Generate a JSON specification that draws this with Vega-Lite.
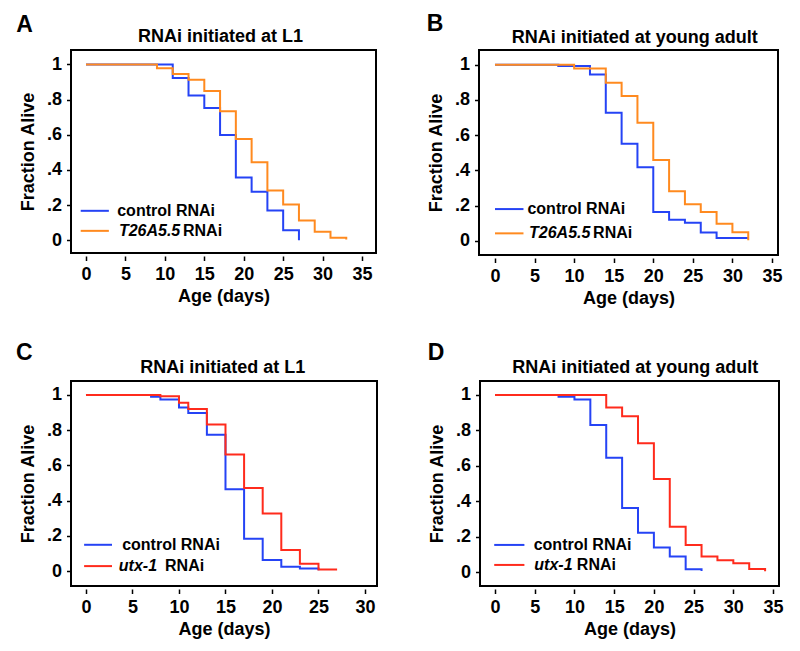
{
  "$schema": "https://vega.github.io/schema/vega-lite/v6.json",
  "background": "white",
  "padding": {"left": 14, "top": 12, "right": 5, "bottom": 5},
  "config": {
    "font": "Liberation Sans",
    "view": {"stroke": "black", "strokeWidth": 2},
    "axis": {
      "domain": false, "grid": false, "tickColor": "black", "tickWidth": 1.5,
      "labelFont": "Liberation Sans", "labelFontSize": 18, "labelFontWeight": "bold", "labelColor": "black",
      "titleFont": "Liberation Sans", "titleFontSize": 18, "titleFontWeight": "bold", "titleColor": "black",
      "labelOverlap": false, "labelFlush": false, "labelPadding": 5
    },
    "axisX": {"offset": 3, "titlePadding": 4,
      "labelExpr": "datum.value % 5 == 0 ? datum.label : ''",
      "tickSize": {"condition": {"test": "datum.value % 5 != 0", "value": 3}, "value": 4.5}},
    "axisY": {"offset": 0, "titlePadding": 9,
      "labelExpr": "round(datum.value*10) % 2 == 1 ? '' : datum.value == 0 ? '0' : datum.value == 1 ? '1' : replace(format(datum.value, '.1f'), '0.', '.')",
      "tickSize": {"condition": {"test": "round(datum.value*10) % 2 == 1", "value": 3}, "value": 4.5}},
    "text": {"font": "Liberation Sans", "fontWeight": "bold", "color": "black"},
    "line": {"interpolate": "step-after", "strokeWidth": 2}
  },
  "data": {"values": [
    {"panel": "A", "series": "control RNAi", "day": 0, "frac": 1},
    {"panel": "A", "series": "control RNAi", "day": 11, "frac": 0.923},
    {"panel": "A", "series": "control RNAi", "day": 13, "frac": 0.823},
    {"panel": "A", "series": "control RNAi", "day": 15, "frac": 0.752},
    {"panel": "A", "series": "control RNAi", "day": 17, "frac": 0.598},
    {"panel": "A", "series": "control RNAi", "day": 19, "frac": 0.356},
    {"panel": "A", "series": "control RNAi", "day": 21, "frac": 0.276},
    {"panel": "A", "series": "control RNAi", "day": 23, "frac": 0.169},
    {"panel": "A", "series": "control RNAi", "day": 25, "frac": 0.057},
    {"panel": "A", "series": "control RNAi", "day": 27, "frac": 0},
    {"panel": "A", "series": "T26A5.5 RNAi", "day": 0, "frac": 1},
    {"panel": "A", "series": "T26A5.5 RNAi", "day": 9, "frac": 0.978},
    {"panel": "A", "series": "T26A5.5 RNAi", "day": 11, "frac": 0.945},
    {"panel": "A", "series": "T26A5.5 RNAi", "day": 13, "frac": 0.913},
    {"panel": "A", "series": "T26A5.5 RNAi", "day": 15, "frac": 0.849},
    {"panel": "A", "series": "T26A5.5 RNAi", "day": 17, "frac": 0.733},
    {"panel": "A", "series": "T26A5.5 RNAi", "day": 19, "frac": 0.575},
    {"panel": "A", "series": "T26A5.5 RNAi", "day": 21, "frac": 0.443},
    {"panel": "A", "series": "T26A5.5 RNAi", "day": 23, "frac": 0.282},
    {"panel": "A", "series": "T26A5.5 RNAi", "day": 25, "frac": 0.203},
    {"panel": "A", "series": "T26A5.5 RNAi", "day": 27, "frac": 0.112},
    {"panel": "A", "series": "T26A5.5 RNAi", "day": 29, "frac": 0.048},
    {"panel": "A", "series": "T26A5.5 RNAi", "day": 31, "frac": 0.014},
    {"panel": "A", "series": "T26A5.5 RNAi", "day": 33, "frac": 0.004},
    {"panel": "B", "series": "control RNAi", "day": 0, "frac": 1},
    {"panel": "B", "series": "control RNAi", "day": 8, "frac": 0.993},
    {"panel": "B", "series": "control RNAi", "day": 12, "frac": 0.945},
    {"panel": "B", "series": "control RNAi", "day": 14, "frac": 0.728},
    {"panel": "B", "series": "control RNAi", "day": 16, "frac": 0.551},
    {"panel": "B", "series": "control RNAi", "day": 18, "frac": 0.417},
    {"panel": "B", "series": "control RNAi", "day": 20, "frac": 0.163},
    {"panel": "B", "series": "control RNAi", "day": 22, "frac": 0.12},
    {"panel": "B", "series": "control RNAi", "day": 24, "frac": 0.102},
    {"panel": "B", "series": "control RNAi", "day": 26, "frac": 0.047},
    {"panel": "B", "series": "control RNAi", "day": 28, "frac": 0.016},
    {"panel": "B", "series": "control RNAi", "day": 32, "frac": 0.016},
    {"panel": "B", "series": "T26A5.5 RNAi", "day": 0, "frac": 1},
    {"panel": "B", "series": "T26A5.5 RNAi", "day": 10, "frac": 0.979},
    {"panel": "B", "series": "T26A5.5 RNAi", "day": 14, "frac": 0.898},
    {"panel": "B", "series": "T26A5.5 RNAi", "day": 16, "frac": 0.823},
    {"panel": "B", "series": "T26A5.5 RNAi", "day": 18, "frac": 0.67},
    {"panel": "B", "series": "T26A5.5 RNAi", "day": 20, "frac": 0.459},
    {"panel": "B", "series": "T26A5.5 RNAi", "day": 22, "frac": 0.281},
    {"panel": "B", "series": "T26A5.5 RNAi", "day": 24, "frac": 0.208},
    {"panel": "B", "series": "T26A5.5 RNAi", "day": 26, "frac": 0.163},
    {"panel": "B", "series": "T26A5.5 RNAi", "day": 28, "frac": 0.097},
    {"panel": "B", "series": "T26A5.5 RNAi", "day": 30, "frac": 0.048},
    {"panel": "B", "series": "T26A5.5 RNAi", "day": 32, "frac": 0.003},
    {"panel": "C", "series": "control RNAi", "day": 0, "frac": 1},
    {"panel": "C", "series": "control RNAi", "day": 7, "frac": 0.99},
    {"panel": "C", "series": "control RNAi", "day": 8, "frac": 0.974},
    {"panel": "C", "series": "control RNAi", "day": 10, "frac": 0.928},
    {"panel": "C", "series": "control RNAi", "day": 11, "frac": 0.897},
    {"panel": "C", "series": "control RNAi", "day": 13, "frac": 0.774},
    {"panel": "C", "series": "control RNAi", "day": 15, "frac": 0.464},
    {"panel": "C", "series": "control RNAi", "day": 17, "frac": 0.184},
    {"panel": "C", "series": "control RNAi", "day": 19, "frac": 0.063},
    {"panel": "C", "series": "control RNAi", "day": 21, "frac": 0.024},
    {"panel": "C", "series": "control RNAi", "day": 23, "frac": 0.015},
    {"panel": "C", "series": "control RNAi", "day": 25, "frac": 0.004},
    {"panel": "C", "series": "utx-1 RNAi", "day": 0, "frac": 1},
    {"panel": "C", "series": "utx-1 RNAi", "day": 8, "frac": 0.992},
    {"panel": "C", "series": "utx-1 RNAi", "day": 10, "frac": 0.955},
    {"panel": "C", "series": "utx-1 RNAi", "day": 11, "frac": 0.92},
    {"panel": "C", "series": "utx-1 RNAi", "day": 13, "frac": 0.832},
    {"panel": "C", "series": "utx-1 RNAi", "day": 15, "frac": 0.662},
    {"panel": "C", "series": "utx-1 RNAi", "day": 17, "frac": 0.472},
    {"panel": "C", "series": "utx-1 RNAi", "day": 19, "frac": 0.327},
    {"panel": "C", "series": "utx-1 RNAi", "day": 21, "frac": 0.12},
    {"panel": "C", "series": "utx-1 RNAi", "day": 23, "frac": 0.041},
    {"panel": "C", "series": "utx-1 RNAi", "day": 25, "frac": 0.009},
    {"panel": "C", "series": "utx-1 RNAi", "day": 27, "frac": 0.009},
    {"panel": "D", "series": "control RNAi", "day": 0, "frac": 1},
    {"panel": "D", "series": "control RNAi", "day": 8, "frac": 0.99},
    {"panel": "D", "series": "control RNAi", "day": 10, "frac": 0.974},
    {"panel": "D", "series": "control RNAi", "day": 12, "frac": 0.831},
    {"panel": "D", "series": "control RNAi", "day": 14, "frac": 0.646},
    {"panel": "D", "series": "control RNAi", "day": 16, "frac": 0.362},
    {"panel": "D", "series": "control RNAi", "day": 18, "frac": 0.222},
    {"panel": "D", "series": "control RNAi", "day": 20, "frac": 0.138},
    {"panel": "D", "series": "control RNAi", "day": 22, "frac": 0.088},
    {"panel": "D", "series": "control RNAi", "day": 24, "frac": 0.016},
    {"panel": "D", "series": "control RNAi", "day": 26, "frac": 0.006},
    {"panel": "D", "series": "utx-1 RNAi", "day": 0, "frac": 1},
    {"panel": "D", "series": "utx-1 RNAi", "day": 14, "frac": 0.929},
    {"panel": "D", "series": "utx-1 RNAi", "day": 16, "frac": 0.88},
    {"panel": "D", "series": "utx-1 RNAi", "day": 18, "frac": 0.727},
    {"panel": "D", "series": "utx-1 RNAi", "day": 20, "frac": 0.525},
    {"panel": "D", "series": "utx-1 RNAi", "day": 22, "frac": 0.256},
    {"panel": "D", "series": "utx-1 RNAi", "day": 24, "frac": 0.153},
    {"panel": "D", "series": "utx-1 RNAi", "day": 26, "frac": 0.088},
    {"panel": "D", "series": "utx-1 RNAi", "day": 28, "frac": 0.066},
    {"panel": "D", "series": "utx-1 RNAi", "day": 30, "frac": 0.049},
    {"panel": "D", "series": "utx-1 RNAi", "day": 32, "frac": 0.017},
    {"panel": "D", "series": "utx-1 RNAi", "day": 34, "frac": 0.004}
  ]},
  "vconcat": [
    {"hconcat": [
      {"width": 305, "height": 203,
       "layer": [
        {"transform": [{"filter": "datum.panel == 'A'"}],
         "mark": "line",
         "encoding": {
          "x": {"field": "day", "type": "quantitative", "scale": {"domain": [-1.9, 36.77], "nice": false, "zero": false},
                "axis": {"title": "Age (days)", "values": [0,2.5,5,7.5,10,12.5,15,17.5,20,22.5,25,27.5,30,32.5,35]}},
          "y": {"field": "frac", "type": "quantitative", "scale": {"domain": [-0.073, 1.082], "nice": false, "zero": false},
                "axis": {"title": "Fraction Alive", "values": [0,0.1,0.2,0.3,0.4,0.5,0.6,0.7,0.8,0.9,1]}},
          "color": {"field": "series", "type": "nominal", "legend": null,
                    "scale": {"domain": ["control RNAi", "T26A5.5 RNAi", "utx-1 RNAi"], "range": ["#2543f5", "#ff8a1f", "#ff2b1c"]}}
         }},
        {"data": {"values": [{}]}, "mark": {"type": "rule", "color": "#2543f5", "strokeWidth": 2},
         "encoding": {"x": {"datum": -0.67}, "x2": {"datum": 2.9}, "y": {"datum": 0.167}}},
        {"data": {"values": [{}]}, "mark": {"type": "rule", "color": "#ff8a1f", "strokeWidth": 2},
         "encoding": {"x": {"datum": -0.67}, "x2": {"datum": 2.9}, "y": {"datum": 0.053}}},
        {"data": {"values": [{}]}, "mark": {"type": "text", "align": "left", "baseline": "middle", "fontSize": 16},
         "encoding": {"x": {"datum": 3.96}, "y": {"datum": 0.167}, "text": {"value": "control RNAi"}}},
        {"data": {"values": [{}]}, "mark": {"type": "text", "align": "left", "baseline": "middle", "fontSize": 16, "fontStyle": "italic"},
         "encoding": {"x": {"datum": 4.17}, "y": {"datum": 0.053}, "text": {"value": "T26A5.5"}}},
        {"data": {"values": [{}]}, "mark": {"type": "text", "align": "left", "baseline": "middle", "fontSize": 16},
         "encoding": {"x": {"datum": 12.3}, "y": {"datum": 0.053}, "text": {"value": "RNAi"}}},
        {"data": {"values": [{}]}, "mark": {"type": "text", "align": "center", "baseline": "alphabetic", "fontSize": 18},
         "encoding": {"x": {"datum": 17.06}, "y": {"datum": 1.129}, "text": {"value": "RNAi initiated at L1"}}},
        {"data": {"values": [{}]}, "mark": {"type": "text", "align": "center", "baseline": "alphabetic", "fontSize": 23},
         "encoding": {"x": {"datum": -7.8}, "y": {"datum": 1.186}, "text": {"value": "A"}}}
       ]},
      {"width": 299, "height": 205,
       "layer": [
        {"transform": [{"filter": "datum.panel == 'B'"}],
         "mark": "line",
         "encoding": {
          "x": {"field": "day", "type": "quantitative", "scale": {"domain": [-2.02, 35.76], "nice": false, "zero": false},
                "axis": {"title": "Age (days)", "values": [0,2.5,5,7.5,10,12.5,15,17.5,20,22.5,25,27.5,30,32.5,35]}},
          "y": {"field": "frac", "type": "quantitative", "scale": {"domain": [-0.081, 1.084], "nice": false, "zero": false},
                "axis": {"title": "Fraction Alive", "values": [0,0.1,0.2,0.3,0.4,0.5,0.6,0.7,0.8,0.9,1]}},
          "color": {"field": "series", "type": "nominal", "legend": null,
                    "scale": {"domain": ["control RNAi", "T26A5.5 RNAi", "utx-1 RNAi"], "range": ["#2543f5", "#ff8a1f", "#ff2b1c"]}}
         }},
        {"data": {"values": [{}]}, "mark": {"type": "rule", "color": "#2543f5", "strokeWidth": 2},
         "encoding": {"x": {"datum": 0}, "x2": {"datum": 3.6}, "y": {"datum": 0.18}}},
        {"data": {"values": [{}]}, "mark": {"type": "rule", "color": "#ff8a1f", "strokeWidth": 2},
         "encoding": {"x": {"datum": 0}, "x2": {"datum": 3.6}, "y": {"datum": 0.042}}},
        {"data": {"values": [{}]}, "mark": {"type": "text", "align": "left", "baseline": "middle", "fontSize": 16},
         "encoding": {"x": {"datum": 4.1}, "y": {"datum": 0.18}, "text": {"value": "control RNAi"}}},
        {"data": {"values": [{}]}, "mark": {"type": "text", "align": "left", "baseline": "middle", "fontSize": 16, "fontStyle": "italic"},
         "encoding": {"x": {"datum": 4.3}, "y": {"datum": 0.042}, "text": {"value": "T26A5.5"}}},
        {"data": {"values": [{}]}, "mark": {"type": "text", "align": "left", "baseline": "middle", "fontSize": 16},
         "encoding": {"x": {"datum": 12.4}, "y": {"datum": 0.042}, "text": {"value": "RNAi"}}},
        {"data": {"values": [{}]}, "mark": {"type": "text", "align": "center", "baseline": "alphabetic", "fontSize": 18},
         "encoding": {"x": {"datum": 17.65}, "y": {"datum": 1.123}, "text": {"value": "RNAi initiated at young adult"}}},
        {"data": {"values": [{}]}, "mark": {"type": "text", "align": "center", "baseline": "alphabetic", "fontSize": 23},
         "encoding": {"x": {"datum": -7.58}, "y": {"datum": 1.19}, "text": {"value": "B"}}}
       ]}
    ], "spacing": 48},
    {"hconcat": [
      {"width": 306, "height": 205,
       "layer": [
        {"transform": [{"filter": "datum.panel == 'C'"}],
         "mark": "line",
         "encoding": {
          "x": {"field": "day", "type": "quantitative", "scale": {"domain": [-1.61, 31.29], "nice": false, "zero": false},
                "axis": {"title": "Age (days)", "values": [0,2.5,5,7.5,10,12.5,15,17.5,20,22.5,25,27.5,30]}},
          "y": {"field": "frac", "type": "quantitative", "scale": {"domain": [-0.085, 1.079], "nice": false, "zero": false},
                "axis": {"title": "Fraction Alive", "values": [0,0.1,0.2,0.3,0.4,0.5,0.6,0.7,0.8,0.9,1]}},
          "color": {"field": "series", "type": "nominal", "legend": null,
                    "scale": {"domain": ["control RNAi", "T26A5.5 RNAi", "utx-1 RNAi"], "range": ["#2543f5", "#ff8a1f", "#ff2b1c"]}}
         }},
        {"data": {"values": [{}]}, "mark": {"type": "rule", "color": "#2543f5", "strokeWidth": 2},
         "encoding": {"x": {"datum": -0.2}, "x2": {"datum": 2.8}, "y": {"datum": 0.149}}},
        {"data": {"values": [{}]}, "mark": {"type": "rule", "color": "#ff2b1c", "strokeWidth": 2},
         "encoding": {"x": {"datum": -0.2}, "x2": {"datum": 2.8}, "y": {"datum": 0.028}}},
        {"data": {"values": [{}]}, "mark": {"type": "text", "align": "left", "baseline": "middle", "fontSize": 16},
         "encoding": {"x": {"datum": 3.89}, "y": {"datum": 0.149}, "text": {"value": "control RNAi"}}},
        {"data": {"values": [{}]}, "mark": {"type": "text", "align": "left", "baseline": "middle", "fontSize": 16, "fontStyle": "italic"},
         "encoding": {"x": {"datum": 3.53}, "y": {"datum": 0.028}, "text": {"value": "utx-1"}}},
        {"data": {"values": [{}]}, "mark": {"type": "text", "align": "left", "baseline": "middle", "fontSize": 16},
         "encoding": {"x": {"datum": 8.5}, "y": {"datum": 0.028}, "text": {"value": "RNAi"}}},
        {"data": {"values": [{}]}, "mark": {"type": "text", "align": "center", "baseline": "alphabetic", "fontSize": 18},
         "encoding": {"x": {"datum": 14.7}, "y": {"datum": 1.126}, "text": {"value": "RNAi initiated at L1"}}},
        {"data": {"values": [{}]}, "mark": {"type": "text", "align": "center", "baseline": "alphabetic", "fontSize": 23},
         "encoding": {"x": {"datum": -6.64}, "y": {"datum": 1.2}, "text": {"value": "C"}}}
       ]},
      {"width": 299, "height": 205,
       "layer": [
        {"transform": [{"filter": "datum.panel == 'D'"}],
         "mark": "line",
         "encoding": {
          "x": {"field": "day", "type": "quantitative", "scale": {"domain": [-1.89, 35.75], "nice": false, "zero": false},
                "axis": {"title": "Age (days)", "values": [0,2.5,5,7.5,10,12.5,15,17.5,20,22.5,25,27.5,30,32.5,35]}},
          "y": {"field": "frac", "type": "quantitative", "scale": {"domain": [-0.079, 1.079], "nice": false, "zero": false},
                "axis": {"title": "Fraction Alive", "values": [0,0.1,0.2,0.3,0.4,0.5,0.6,0.7,0.8,0.9,1]}},
          "color": {"field": "series", "type": "nominal", "legend": null,
                    "scale": {"domain": ["control RNAi", "T26A5.5 RNAi", "utx-1 RNAi"], "range": ["#2543f5", "#ff8a1f", "#ff2b1c"]}}
         }},
        {"data": {"values": [{}]}, "mark": {"type": "rule", "color": "#2543f5", "strokeWidth": 2},
         "encoding": {"x": {"datum": -0.1}, "x2": {"datum": 3.7}, "y": {"datum": 0.153}}},
        {"data": {"values": [{}]}, "mark": {"type": "rule", "color": "#ff2b1c", "strokeWidth": 2},
         "encoding": {"x": {"datum": -0.1}, "x2": {"datum": 3.7}, "y": {"datum": 0.04}}},
        {"data": {"values": [{}]}, "mark": {"type": "text", "align": "left", "baseline": "middle", "fontSize": 16},
         "encoding": {"x": {"datum": 4.87}, "y": {"datum": 0.153}, "text": {"value": "control RNAi"}}},
        {"data": {"values": [{}]}, "mark": {"type": "text", "align": "left", "baseline": "middle", "fontSize": 16, "fontStyle": "italic"},
         "encoding": {"x": {"datum": 4.95}, "y": {"datum": 0.04}, "text": {"value": "utx-1"}}},
        {"data": {"values": [{}]}, "mark": {"type": "text", "align": "left", "baseline": "middle", "fontSize": 16},
         "encoding": {"x": {"datum": 10.3}, "y": {"datum": 0.04}, "text": {"value": "RNAi"}}},
        {"data": {"values": [{}]}, "mark": {"type": "text", "align": "center", "baseline": "alphabetic", "fontSize": 18},
         "encoding": {"x": {"datum": 17.65}, "y": {"datum": 1.126}, "text": {"value": "RNAi initiated at young adult"}}},
        {"data": {"values": [{}]}, "mark": {"type": "text", "align": "center", "baseline": "alphabetic", "fontSize": 23},
         "encoding": {"x": {"datum": -7.43}, "y": {"datum": 1.2}, "text": {"value": "D"}}}
       ]}
    ], "spacing": 48}
  ],
  "spacing": 31
}
